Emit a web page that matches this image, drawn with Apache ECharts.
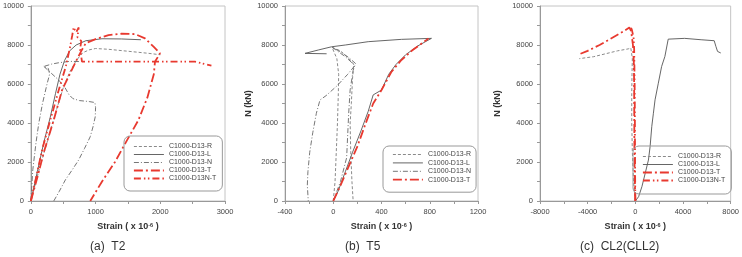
<!DOCTYPE html>
<html>
<head>
<meta charset="utf-8">
<script src="https://cdn.jsdelivr.net/npm/echarts@6/dist/echarts.min.js"></script>
<style>
  html, body { margin: 0; padding: 0; background: #fff; }
  #chart { width: 742px; height: 257px; }
</style>
</head>
<body>
<div id="chart"></div>
<script>
// names of the gauges
const nameR = 'C1000-D13-R'
const nameL = 'C1000-D13-L'
const nameN = 'C1000-D13-N'
const nameT = 'C1000-D13-T'
const nameNT = 'C1000-D13N-T'

const captions = ['(a)  T2', '(b)  T5', '(c)  CL2(CLL2)']

// (a) T2  [strain x1e-6, N kN]
const t2R = [[0,0],[120,1500],[250,3000],[380,4500],[500,5800],[600,6600],[700,7200],[800,7600],[900,7750],[1000,7820],[1200,7780],[1500,7680],[1800,7580],[2000,7500]]
const t2L = [[0,0],[100,1500],[200,3000],[300,4300],[380,5500],[450,6500],[520,7200],[600,7700],[700,8000],[850,8220],[1100,8320],[1400,8310],[1700,8270]]
const t2NUp = [[0,0],[30,1600],[80,3000],[123,4000],[180,5000],[250,6000],[290,6500],[270,6800],[200,6900],[320,7020],[431,7090],[600,7160],[770,7150]]
const t2NTail = [[200,6900],[300,6600],[431,6200],[530,5800],[590,5450],[650,5250],[750,5150],[900,5100],[990,5050],[1000,4800],[995,4320],[960,3800],[918,3300],[830,2700],[738,2100],[640,1600],[533,1080],[440,500],[354,0]]
const t2T = [[0,0],[100,1200],[200,2500],[354,4150],[482,5690],[600,6500],[687,7100],[780,7700],[850,8100],[1000,8300],[1200,8510],[1400,8580],[1610,8560],[1764,8340],[1900,7900],[1995,7570],[1918,7140],[1900,6500],[1800,5300],[1662,4150],[1500,3200],[1300,2000],[1100,1000],[918,0]]
const t2NT = [[0,0],[80,1200],[180,2700],[300,4150],[431,5690],[540,6900],[600,7800],[640,8500],[660,8900],[700,8650],[740,8900],[720,8400],[780,8200],[760,7800],[790,7150],[1200,7150],[1600,7150],[2000,7150],[2533,7150],[2790,6940]]

// (b) T5
const t5R = [[0,0],[15,1000],[25,2500],[35,4000],[42,5500],[45,6500],[30,7300],[-10,7880],[60,7700],[130,7300],[170,7000],[160,6300],[150,5000],[140,4000],[145,2500],[155,1000],[165,0]]
const t5L = [[0,0],[40,500],[100,1500],[160,2500],[230,3600],[290,4600],[331,5440],[400,5690],[460,6500],[520,7000],[600,7500],[700,7950],[814,8340],[566,8290],[290,8170],[100,8000],[-13,7910],[-120,7750],[-234,7570],[-55,7550]]
const t5N = [[0,0],[60,1000],[111,2220],[128,4500],[140,5700],[165,6700],[185,7050],[130,7350],[60,7650],[-13,7900],[100,7400],[180,6950],[120,6500],[30,5900],[-60,5400],[-110,5180],[-140,4500],[-170,3500],[-195,2500],[-210,1500],[-215,800],[-207,0]]
const t5T = [[0,0],[60,800],[130,1800],[200,2800],[270,4000],[331,5000],[400,5690],[480,6600],[560,7200],[650,7700],[760,8200],[790,8340]]

// (c) CL2(CLL2)
const cl2R = [[0,0],[-150,1000],[-250,2500],[-300,4000],[-300,5500],[-280,6500],[-250,7300],[-380,7850],[-600,7800],[-1500,7700],[-2500,7550],[-3500,7400],[-4700,7300]]
const cl2L = [[0,0],[276,222],[552,736],[828,1420],[1100,2100],[1240,2790],[1380,3820],[1517,4500],[1655,5190],[1930,6040],[2207,6900],[2480,7410],[2760,8300],[2900,8360],[4140,8340],[5520,8270],[6620,8220],[6760,7930],[6900,7670],[7170,7590]]
const cl2T = [[0,0],[-60,1500],[-80,3000],[-90,4500],[-100,6000],[-120,7000],[-200,8000],[-350,8700],[-500,8900],[-1000,8700],[-2000,8350],[-3000,8000],[-4000,7700],[-4600,7550]]
const cl2NT = [[0,0],[-20,1500],[-30,3000],[-40,4500],[-60,6000],[-80,7000],[-100,7800],[-150,8400],[-300,8800],[-420,8950]]

const xRanges = [[0, 3000, 1000], [-400, 1200, 400], [-8000, 8000, 4000]]

const RED = '#e8392f'
const FONT = 'Liberation Sans'

const lineStyles = {
  [nameR]: { color: '#8a8a8a', width: 1, type: [3, 2] },
  [nameL]: { color: '#555', width: 0.9, type: 'solid' },
  [nameN]: { color: '#777', width: 1, type: [5, 2, 1, 2] },
  [nameT]: { color: RED, width: 1.8, type: [9, 3, 2, 3] },
  [nameNT]: { color: RED, width: 1.8, type: [7, 3, 1.5, 2.5, 1.5, 3] }
}

const mkSeries = (name, data, idx) => ({
  type: 'line',
  name: name,
  data: data,
  xAxisIndex: idx,
  yAxisIndex: idx,
  symbol: 'none',
  showSymbol: false,
  clip: true,
  itemStyle: { color: 'rgba(0,0,0,0)' },
  lineStyle: lineStyles[name],
  emphasis: { disabled: true }
})

const grids = [
  { left: 30, top: 6, width: 195, height: 195 },
  { left: 285, top: 6, width: 193, height: 195 },
  { left: 540, top: 6, width: 194, height: 195 }
]

const axisCommon = {
  type: 'value',
  axisLine: { show: true, onZero: false, lineStyle: { color: '#999', width: 1 } },
  axisTick: { show: true, inside: false, length: 3, lineStyle: { color: '#999' } },
  minorTick: { show: true, splitNumber: 2, length: 3, lineStyle: { color: '#999' } },
  splitLine: { show: false },
  axisLabel: { color: '#444', fontSize: 7.5, fontFamily: FONT, margin: 7, formatter: v => String(v) }
}

const xAxes = xRanges.map((r, i) => Object.assign({}, axisCommon, {
  gridIndex: i,
  min: r[0],
  max: r[1],
  interval: r[2],
  name: 'Strain ( x 10{s|-6} )',
  nameLocation: 'middle',
  nameGap: 21,
  nameTextStyle: {
    fontSize: 9, fontWeight: 'bold', color: '#333', fontFamily: FONT,
    rich: { s: { fontSize: 5.5, fontWeight: 'bold', color: '#333', fontFamily: FONT, verticalAlign: 'top' } }
  }
}))

const yAxes = [0, 1, 2].map(i => Object.assign({}, axisCommon, {
  gridIndex: i,
  min: 0,
  max: 10000,
  interval: 2000,
  name: i === 0 ? '' : 'N (kN)',
  nameLocation: 'middle',
  nameGap: i === 1 ? 30 : 38,
  nameTextStyle: { fontSize: 9, fontWeight: 'bold', color: '#333', fontFamily: FONT }
}))

const legendCommon = {
  orient: 'vertical',
  itemWidth: 30,
  itemHeight: 8,
  itemGap: 1,
  borderColor: '#999',
  borderWidth: 1,
  borderRadius: 6,
  selectedMode: false,
  lineStyle: { width: 'inherit' },
  textStyle: { fontSize: 7, color: '#444', fontFamily: FONT }
}

const legends = [
  Object.assign({}, legendCommon, { left: 124, top: 136, padding: [7, 6, 9, 9], data: [nameR, nameL, nameN, nameT, nameNT] }),
  Object.assign({}, legendCommon, { left: 383, top: 146, padding: [5, 5, 9, 9], itemGap: 1.4, data: [nameR, nameL, nameN, nameT] }),
  Object.assign({}, legendCommon, { left: 633, top: 146, padding: [7, 6, 10, 9], data: [nameR, nameL, nameT, nameNT] })
]

const titles = captions.map((c, i) => ({
  text: c,
  left: [90, 345, 580][i],
  top: 241,
  padding: 0,
  textStyle: { fontSize: 12, fontWeight: 'normal', color: '#333', fontFamily: FONT }
}))

const series = [
  mkSeries(nameR, t2R, 0),
  mkSeries(nameL, t2L, 0),
  mkSeries(nameN, t2NUp, 0),
  mkSeries(nameN, t2NTail, 0),
  mkSeries(nameT, t2T, 0),
  mkSeries(nameNT, t2NT, 0),
  mkSeries(nameR, t5R, 1),
  mkSeries(nameL, t5L, 1),
  mkSeries(nameN, t5N, 1),
  mkSeries(nameT, t5T, 1),
  mkSeries(nameR, cl2R, 2),
  mkSeries(nameL, cl2L, 2),
  mkSeries(nameT, cl2T, 2),
  mkSeries(nameNT, cl2NT, 2)
]

const chart = echarts.init(document.getElementById('chart'), null, { renderer: 'canvas' })
chart.setOption({
  animation: false,
  backgroundColor: '#fff',
  title: titles,
  legend: legends,
  grid: grids.map(g => Object.assign({ show: true, borderColor: '#c4c4c4', borderWidth: 1, backgroundColor: 'transparent' }, g)),
  xAxis: xAxes,
  yAxis: yAxes,
  series: series
})
</script>
</body>
</html>
